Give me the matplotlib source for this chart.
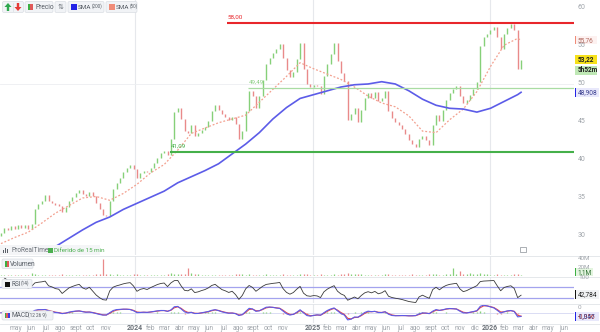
import matplotlib
matplotlib.use("Agg")
import matplotlib.pyplot as plt
import matplotlib.dates as mdates
from matplotlib.patches import FancyBboxPatch, Rectangle, Polygon
import numpy as np
import pandas as pd

plt.rcParams['font.family'] = ['Roboto', 'DejaVu Sans']

# ---------------- data (weekly) ----------------
first_week = "2023-03-31"
first_open = 30.0
close = [
    30.4, 31.1, 30.8, 31.3, 30.9, 31.4, 31.0, 31.5, 30.9, 31.6,
    33.6, 34.2, 34.6, 35.4, 34.6, 34.4, 34.1, 34.0, 33.2, 33.8,
    34.6, 35.1, 35.6, 36.0, 35.5, 35.3, 35.8, 35.2, 34.4, 33.6,
    32.8, 32.6, 34.6, 36.2, 37.0, 37.6, 38.4, 39.0, 39.4, 38.8,
    37.6, 38.3, 38.6, 38.4, 39.0, 39.6, 40.3, 40.9, 41.2, 40.7,
    42.8, 46.3, 46.9, 45.4, 43.8, 43.6, 44.6, 43.2, 43.5, 44.0,
    44.4, 45.1, 46.4, 47.2, 46.6, 46.0, 45.7, 45.3, 45.6, 44.8,
    42.8, 43.8, 46.5, 49.1, 48.4, 46.8, 48.4, 50.5, 52.6, 53.4,
    54.1, 54.6, 55.3, 53.4, 51.8, 50.9, 51.6, 53.3, 55.4, 52.0,
    50.0, 49.6, 49.9, 49.7, 48.7, 51.0, 52.6, 54.0, 55.4, 53.0,
    51.4, 50.4, 45.2, 46.0, 46.8, 45.0, 46.6, 48.1, 48.8, 48.2,
    48.9, 47.8, 48.2, 49.1, 46.4, 45.5, 45.0, 44.6, 44.1, 43.4,
    42.6, 42.1, 41.7, 42.8, 43.2, 42.6, 42.0, 44.6, 45.9, 45.1,
    46.6, 47.9, 48.8, 49.3, 49.8, 48.4, 47.5, 47.9, 48.6, 49.3,
    50.2, 55.0, 56.2, 56.6, 57.1, 57.5, 56.2, 54.6, 56.6, 57.4,
    57.9, 57.1, 52.0, 53.22,
]
volume_m = [
    3, 2.5, 3, 2, 2.5, 3, 2, 2.5, 3, 6,
    4, 3, 2.5, 3, 2, 2.5, 2, 3, 3.5, 2.5,
    2, 3, 2.5, 2, 3, 2.5, 2, 3, 3.5, 4,
    40, 5, 4, 3, 3.5, 3, 2.5, 3, 2, 4,
    3.5, 3, 2.5, 3, 2.5, 3, 3, 2.5, 3, 3.5,
    6, 5, 4, 5, 4.5, 19, 6, 4, 3.5, 3,
    3, 2.5, 3, 2.5, 3, 3, 2.5, 2, 3, 3.5,
    4.5, 3.5, 3, 4, 3, 3, 2.5, 3, 3.5, 3,
    3, 2.5, 3, 3.5, 3, 3, 2.5, 3, 4, 4.5,
    3.5, 3, 2.5, 3, 3.5, 3, 3, 3, 3.5, 3,
    3.5, 4, 6, 5, 4, 4.5, 3.5, 3, 2.5, 3,
    3, 2.5, 3, 3.5, 4, 3, 3, 2.5, 3, 3,
    3, 3.5, 3, 2.5, 3, 3, 3.5, 4, 3.5, 3,
    3, 3.5, 4, 19, 5, 12, 4, 4, 8, 4,
    5, 6, 4, 3.5, 3, 3, 3.5, 3, 3, 3,
    3, 3.5, 4, 2,
]
# SMA values read every 4th week (week index given), plus the last week
sma200_weeks = [12, 16, 20, 24, 28, 32, 36, 40, 44, 48, 52, 56, 60, 64, 68, 72, 76,
                80, 84, 88, 92, 96, 100, 104, 108, 112, 116, 120, 124, 128, 132,
                136, 140, 144, 148, 152, 153]
sma200 = [27.9, 28.6, 29.7, 30.8, 31.8, 32.5, 33.5, 34.3, 35.1, 35.9, 37.0, 37.8,
          38.6, 39.5, 40.8, 42.1, 43.6, 45.4, 46.9, 48.1, 48.6, 49.1, 49.6, 49.9,
          50.0, 50.3, 50.0, 49.1, 48.0, 47.2, 46.8, 46.7, 46.3, 46.8, 47.7, 48.6,
          48.908]
sma50_weeks = [0, 4, 8, 12, 16, 20, 24, 28, 32, 36, 40, 44, 48, 52, 56, 60, 64, 68,
               72, 76, 80, 84, 88, 92, 96, 100, 104, 108, 112, 116, 120, 124, 128,
               132, 136, 140, 144, 148, 152, 153]
sma50 = [29.0, 29.8, 30.5, 31.7, 33.0, 34.0, 35.0, 35.2, 34.7, 35.6, 36.8, 38.3,
         39.4, 41.3, 43.5, 44.2, 44.9, 45.4, 45.9, 47.6, 49.3, 51.0, 52.8, 52.0,
         51.3, 50.6, 49.6, 48.4, 47.5, 47.0, 45.8, 43.8, 43.6, 45.3, 46.7, 49.0,
         52.3, 55.1, 56.0, 55.76]
levels = [58.00, 49.49, 41.09]
level_start = ["2024-07-08", "2024-08-20", "2024-03-13"]
level_labels = ["58,00", "49,49", "41,09"]
price_ticks = [30, 35, 40, 45, 50, 55, 60]
month_names = ['ene', 'feb', 'mar', 'abr', 'may', 'jun', 'jul', 'ago', 'sept',
               'oct', 'nov', 'dic']
skip_labels = ["2023-12", "2024-12"]
rsi_badge = 42.784

# ---------------- styles ----------------
W, H = 600, 332
UP, DN = '#86d079', '#e98a8a'
BLUE = '#5c5ce8'
SALMON = '#f3a08f'
GREY = '#a0a5ab'
GRID = '#e6e8ec'

fig = plt.figure(figsize=(W / 100, H / 100), dpi=100)
fig.patch.set_facecolor('white')


def add_ax(x0, y0, x1, y1):
    a = fig.add_axes([x0 / W, 1 - y1 / H, (x1 - x0) / W, (y1 - y0) / H])
    a.set_axis_off()
    return a


ax_p = add_ax(0, 0, 574, 255)
ax_v = add_ax(0, 256, 574, 276)
ax_r = add_ax(0, 277, 574, 303)
ax_m = add_ax(0, 304, 574, 323)
axes = [ax_p, ax_v, ax_r, ax_m]

dates = pd.date_range(first_week, periods=len(close), freq="7D")
xd = mdates.date2num(dates)
xmin = mdates.date2num(pd.Timestamp("2023-03-29"))
xmax = mdates.date2num(pd.Timestamp("2026-06-23"))
for a in axes:
    a.set_xlim(xmin, xmax)
    for yr in (2024, 2025, 2026):
        a.axvline(mdates.date2num(pd.Timestamp(f"{yr}-01-01")), color=GRID, lw=0.8, zorder=0)

# ---------------- price ----------------
ax_p.set_ylim(27.5, 61.05)
c = np.array(close)
o = np.array([first_open] + close[:-1])
lo = np.minimum(o, c)
hi = np.maximum(np.maximum(o, c), lo + 0.18)
cols = [UP if cc >= oo else DN for oo, cc in zip(o, c)]
ax_p.vlines(xd, lo, hi, colors=cols, lw=1.0, zorder=3)
ax_p.axhline(50, color='#eceef1', lw=0.6, zorder=0)

ax_p.plot(xd[sma50_weeks], sma50, color=SALMON, lw=0.9, ls=(0, (1.5, 1.5)), zorder=4)
ax_p.plot(xd[sma200_weeks], sma200, color=BLUE, lw=1.2, zorder=4)

lvl_cols = ['#e8262b', '#a9dca3', '#45b04a']
lvl_lw = [1.5, 0.9, 1.5]
lvl_txt = ['#e8262b', '#8fcf88', '#45b04a']
for lv, st, lab, col, lw, tc in zip(levels, level_start, level_labels, lvl_cols, lvl_lw, lvl_txt):
    s = mdates.date2num(pd.Timestamp(st))
    ax_p.hlines(lv, s, xmax, color=col, lw=lw, zorder=5)
    ax_p.text(s + 2, lv + 0.45, lab, color=tc, fontsize=4.5, ha='left', va='bottom', zorder=6)

# ---------------- volume ----------------
ax_v.set_ylim(0, 46)
ax_v.vlines(xd, 0, volume_m, colors=cols, lw=0.9)

# ---------------- RSI (14 days ~ weekly smoothing) ----------------
cs = pd.Series(close)
dlt = cs.diff()
gain = dlt.clip(lower=0).ewm(alpha=1 / 6, adjust=False).mean()
loss = (-dlt.clip(upper=0)).ewm(alpha=1 / 6, adjust=False).mean()
rsi = 100 - 100 / (1 + gain / loss)
ax_r.set_ylim(13.8, 103.4)
ax_r.axhline(70, color='#a3a3ee', lw=0.9)
ax_r.axhline(30, color='#a3a3ee', lw=0.9)
ax_r.plot(xd, rsi, color='#3a3a3a', lw=0.6)

# ---------------- MACD ----------------
ema_f = cs.ewm(span=12 / 5, adjust=False).mean()
ema_s = cs.ewm(span=26 / 5, adjust=False).mean()
macd = ema_f - ema_s
sig = macd.ewm(span=9 / 5, adjust=False).mean()
hist = macd - sig
m = max(abs(macd).max(), abs(sig).max()) * 1.05
ax_m.set_ylim(-m * 1.3, m * 1.1)
ax_m.axhline(0, color='#d4d7f2', lw=0.6)
ax_m.vlines(xd, 0, hist, colors=[UP if h >= 0 else DN for h in hist], lw=1.0)
ax_m.plot(xd, sig, color='#e0484f', lw=0.8)
ax_m.plot(xd, macd, color=BLUE, lw=0.8)

# ---------------- overlay (pixel space) ----------------
ov = fig.add_axes([0, 0, 1, 1], zorder=10)
ov.set_xlim(0, W)
ov.set_ylim(H, 0)
ov.set_axis_off()
ov.patch.set_alpha(0)


def to_px(a, x, y):
    d = a.transData.transform((x, y))
    return d[0], H - d[1]


def rbox(x0, y0, x1, y1, face='#f1f3f6', edge='#d9dde3'):
    ov.add_patch(FancyBboxPatch((x0, y0), x1 - x0, y1 - y0,
                                boxstyle='round,pad=0,rounding_size=1.5',
                                fc=face, ec=edge, lw=0.5))


# panel separators
for yy in (255.5, 276.5, 303.5, 323.5):
    ov.plot([0, W], [yy, yy], color='#e1e4e8', lw=0.6)

# top legend
rbox(2.5, 1.5, 23.5, 12.5)
ov.add_patch(Polygon([(4.5, 7), (8, 3), (11.5, 7), (9.2, 7), (9.2, 11), (6.8, 11), (6.8, 7)],
                     closed=True, fc='#2fa84f', ec='none'))
ov.plot([13, 13], [3, 11], color='#d9dde3', lw=0.5)
ov.add_patch(Polygon([(14.5, 7), (18, 11), (21.5, 7), (19.2, 7), (19.2, 3), (16.8, 3), (16.8, 7)],
                     closed=True, fc='#e53935', ec='none'))
rbox(25, 1.5, 53, 12.5)
ov.add_patch(Rectangle((27.5, 4), 2.5, 6, fc='#3cb043', ec='none'))
ov.add_patch(Rectangle((30, 4), 2.5, 6, fc='#e05a5a', ec='none'))
ov.text(35, 7.3, 'Precio', fontsize=4.8, color='#555b63', va='center', ha='left')
rbox(55, 1.5, 66, 12.5)
ov.text(60.5, 7.3, '⇅', family=['DejaVu Sans'], fontsize=5.0, color='#6b7178',
        va='center', ha='center')
rbox(68, 1.5, 104, 12.5)
ov.add_patch(Rectangle((70.5, 4), 6, 6, fc='#2323e6', ec='none'))
ov.text(78, 7.3, 'SMA', fontsize=4.6, color='#555b63', va='center', ha='left')
ov.text(91.5, 6.3, '(200)', fontsize=3.3, color='#555b63', va='center', ha='left')
rbox(106, 1.5, 137, 12.5)
ov.add_patch(Rectangle((108.5, 4), 6, 6, fc='#f08c78', ec='none'))
ov.text(116, 7.3, 'SMA', fontsize=4.6, color='#555b63', va='center', ha='left')
ov.text(129.5, 6.3, '(50)', fontsize=3.3, color='#555b63', va='center', ha='left')

# ProRealTime footer
ov.add_patch(Rectangle((0, 245), 100, 10, fc='#f4f5f7', ec='none'))
for i, hh in enumerate([3, 5, 4]):
    ov.add_patch(Rectangle((3 + i * 2, 253 - hh), 1.2, hh, fc='#5a6068', ec='none'))
ov.text(11.5, 250.5, 'ProRealTime', fontsize=4.7, color='#6b7178', va='center', ha='left')
ov.add_patch(Rectangle((48, 248.3), 4.5, 4.5, fc='#4caf50', ec='none'))
ov.text(54, 250.5, 'Diferido de 15 min', fontsize=4.5, color='#4caf50', va='center', ha='left')
ov.add_patch(Rectangle((519.5, 246.5), 6, 5, fc='white', ec='#8a9097', lw=0.5))

# panel label boxes
rbox(2, 259, 33, 268.5)
ov.add_patch(Rectangle((4.5, 261), 2, 5.5, fc='#3cb043', ec='none'))
ov.add_patch(Rectangle((6.5, 261), 2, 5.5, fc='#e05a5a', ec='none'))
ov.text(10, 264, 'Volumen', fontsize=4.7, color='#555b63', va='center', ha='left')
rbox(2, 279.5, 32, 288.5)
ov.add_patch(Rectangle((4.5, 281.5), 5, 5, fc='#111111', ec='none'))
ov.text(11, 284, 'RSI', fontsize=4.7, color='#555b63', va='center', ha='left')
ov.text(20.5, 283.3, '(14)', fontsize=3.4, color='#555b63', va='center', ha='left')
rbox(2, 311, 53, 320)
ov.add_patch(Rectangle((4.5, 313), 1.7, 5, fc='#3cb043', ec='none'))
ov.add_patch(Rectangle((6.2, 313), 1.7, 5, fc='#e05a5a', ec='none'))
ov.add_patch(Rectangle((7.9, 313), 1.7, 5, fc='#3b3be0', ec='none'))
ov.text(11, 315.5, 'MACD', fontsize=4.7, color='#555b63', va='center', ha='left')
ov.text(28.5, 314.9, '(12 26 9)', fontsize=3.4, color='#555b63', va='center', ha='left')

# right price labels
for v in price_ticks:
    _, yp = to_px(ax_p, xmin, v)
    ov.text(578, yp, str(v), fontsize=5.0, color=GREY, va='center', ha='left')


def badge(yp, text, face, bar, tcol, w=22, h=8.5, x0=574.5, bold=False):
    ov.add_patch(Rectangle((x0, yp - h / 2), w, h, fc=face, ec='none'))
    if bar:
        ov.add_patch(Rectangle((x0, yp - h / 2), 1.6, h, fc=bar, ec='none'))
    ov.text(x0 + 3, yp + 0.3, text, fontsize=4.7, color=tcol, va='center', ha='left',
            fontweight='bold' if bold else 'normal')


_, y5576 = to_px(ax_p, xmin, sma50[-1])
badge(y5576, '55,76', '#fdf1f0', '#f08c78', '#b36a60')
_, ylast = to_px(ax_p, xmin, close[-1])
badge(ylast, '53,22', '#f6e11b', None, '#222222', h=9, bold=True)
badge(ylast + 10.5, '5h52m', '#bfe8b5', None, '#222222', h=9, bold=True)
_, ysma = to_px(ax_p, xmin, sma200[-1])
badge(ysma, '48,908', '#e8e8fb', '#2323e6', '#3a3f8f', w=24)

# volume labels
for v in (40, 20):
    _, yp = to_px(ax_v, xmin, v)
    ov.text(578, yp, f'{v}M', fontsize=4.5, color=GREY, va='center', ha='left')
_, yv = to_px(ax_v, xmin, volume_m[-1])
badge(min(yv, 272), '1,1M', '#e3f5df', '#3cb043', '#2f6f33', w=18)

# RSI labels
for v in (100, 0):
    _, yp = to_px(ax_r, xmin, v)
    ov.text(578, yp, str(v), fontsize=4.6, color=GREY, va='center', ha='left')
_, yr = to_px(ax_r, xmin, rsi_badge)
badge(yr, '42,784', '#f1f2f4', '#111111', '#222222', w=24)


# MACD badges
def fmt(v):
    return f'{v:.3f}'.replace('.', ',')


_, ys = to_px(ax_m, xmin, sig.iloc[-1])
_, ym = to_px(ax_m, xmin, macd.iloc[-1])
badge(ys, fmt(sig.iloc[-1]), '#fdecec', '#e0484f', '#b03a3a', w=24)
badge(ym, fmt(macd.iloc[-1]), '#e8e8fb', '#2323e6', '#3a3f8f', w=24)

# x axis month labels
for d in pd.date_range("2023-05-01", "2026-06-01", freq="MS"):
    if d.strftime("%Y-%m") in skip_labels:
        continue
    xp, _ = to_px(ax_m, mdates.date2num(d), 0)
    if d.month == 1:
        ov.text(xp, 328.5, str(d.year), fontsize=5.0, color='#6b7178', fontweight='bold',
                va='center', ha='center')
    else:
        ov.text(xp, 328.5, month_names[d.month - 1], fontsize=4.8, color=GREY,
                va='center', ha='center')

fig.savefig('out.png', dpi=100, facecolor='white')
